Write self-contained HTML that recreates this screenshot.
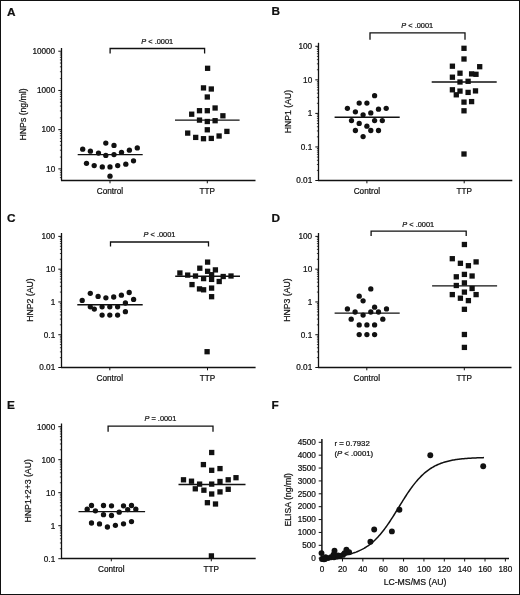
<!DOCTYPE html>
<html><head><meta charset="utf-8"><style>
html,body{margin:0;padding:0;background:#fff;}
body{width:520px;height:595px;overflow:hidden;}
svg{display:block;filter:grayscale(1);}
text{stroke:#111;stroke-width:0.22px;}
</style></head><body>
<svg width="520" height="595" viewBox="0 0 520 595" font-family='"Liberation Sans", sans-serif' fill="#111">
<rect x="0" y="0" width="520" height="595" fill="#fff"/>
<text x="6.90" y="15.80" font-size="11.8" text-anchor="start" font-weight="bold">A</text>
<line x1="61.50" y1="48.00" x2="61.50" y2="180.50" stroke="#111" stroke-width="1.3"/>
<line x1="58.30" y1="168.90" x2="61.50" y2="168.90" stroke="#111" stroke-width="1.0"/>
<text x="55.20" y="171.70" font-size="8.2" text-anchor="end" font-weight="normal">10</text>
<line x1="58.30" y1="129.67" x2="61.50" y2="129.67" stroke="#111" stroke-width="1.0"/>
<text x="55.20" y="132.47" font-size="8.2" text-anchor="end" font-weight="normal">100</text>
<line x1="58.30" y1="90.44" x2="61.50" y2="90.44" stroke="#111" stroke-width="1.0"/>
<text x="55.20" y="93.24" font-size="8.2" text-anchor="end" font-weight="normal">1000</text>
<line x1="58.30" y1="51.21" x2="61.50" y2="51.21" stroke="#111" stroke-width="1.0"/>
<text x="55.20" y="54.01" font-size="8.2" text-anchor="end" font-weight="normal">10000</text>
<line x1="59.90" y1="177.60" x2="61.50" y2="177.60" stroke="#111" stroke-width="0.8"/>
<line x1="59.90" y1="174.98" x2="61.50" y2="174.98" stroke="#111" stroke-width="0.8"/>
<line x1="59.90" y1="172.70" x2="61.50" y2="172.70" stroke="#111" stroke-width="0.8"/>
<line x1="59.90" y1="170.70" x2="61.50" y2="170.70" stroke="#111" stroke-width="0.8"/>
<line x1="59.90" y1="157.09" x2="61.50" y2="157.09" stroke="#111" stroke-width="0.8"/>
<line x1="59.90" y1="150.18" x2="61.50" y2="150.18" stroke="#111" stroke-width="0.8"/>
<line x1="59.90" y1="145.28" x2="61.50" y2="145.28" stroke="#111" stroke-width="0.8"/>
<line x1="59.90" y1="141.48" x2="61.50" y2="141.48" stroke="#111" stroke-width="0.8"/>
<line x1="59.90" y1="138.37" x2="61.50" y2="138.37" stroke="#111" stroke-width="0.8"/>
<line x1="59.90" y1="135.75" x2="61.50" y2="135.75" stroke="#111" stroke-width="0.8"/>
<line x1="59.90" y1="133.47" x2="61.50" y2="133.47" stroke="#111" stroke-width="0.8"/>
<line x1="59.90" y1="131.47" x2="61.50" y2="131.47" stroke="#111" stroke-width="0.8"/>
<line x1="59.90" y1="117.86" x2="61.50" y2="117.86" stroke="#111" stroke-width="0.8"/>
<line x1="59.90" y1="110.95" x2="61.50" y2="110.95" stroke="#111" stroke-width="0.8"/>
<line x1="59.90" y1="106.05" x2="61.50" y2="106.05" stroke="#111" stroke-width="0.8"/>
<line x1="59.90" y1="102.25" x2="61.50" y2="102.25" stroke="#111" stroke-width="0.8"/>
<line x1="59.90" y1="99.14" x2="61.50" y2="99.14" stroke="#111" stroke-width="0.8"/>
<line x1="59.90" y1="96.52" x2="61.50" y2="96.52" stroke="#111" stroke-width="0.8"/>
<line x1="59.90" y1="94.24" x2="61.50" y2="94.24" stroke="#111" stroke-width="0.8"/>
<line x1="59.90" y1="92.24" x2="61.50" y2="92.24" stroke="#111" stroke-width="0.8"/>
<line x1="59.90" y1="78.63" x2="61.50" y2="78.63" stroke="#111" stroke-width="0.8"/>
<line x1="59.90" y1="71.72" x2="61.50" y2="71.72" stroke="#111" stroke-width="0.8"/>
<line x1="59.90" y1="66.82" x2="61.50" y2="66.82" stroke="#111" stroke-width="0.8"/>
<line x1="59.90" y1="63.02" x2="61.50" y2="63.02" stroke="#111" stroke-width="0.8"/>
<line x1="59.90" y1="59.91" x2="61.50" y2="59.91" stroke="#111" stroke-width="0.8"/>
<line x1="59.90" y1="57.29" x2="61.50" y2="57.29" stroke="#111" stroke-width="0.8"/>
<line x1="59.90" y1="55.01" x2="61.50" y2="55.01" stroke="#111" stroke-width="0.8"/>
<line x1="59.90" y1="53.01" x2="61.50" y2="53.01" stroke="#111" stroke-width="0.8"/>
<line x1="61.00" y1="180.50" x2="255.50" y2="180.50" stroke="#111" stroke-width="1.3"/>
<line x1="110.00" y1="180.50" x2="110.00" y2="183.30" stroke="#111" stroke-width="1.0"/>
<text x="110.00" y="193.50" font-size="8.2" text-anchor="middle" font-weight="normal">Control</text>
<line x1="207.30" y1="180.50" x2="207.30" y2="183.30" stroke="#111" stroke-width="1.0"/>
<text x="207.30" y="193.50" font-size="8.2" text-anchor="middle" font-weight="normal">TTP</text>
<path d="M110.1 53.4 V48.5 H204.6 V53.4" fill="none" stroke="#111" stroke-width="1.3"/>
<text x="157.2" y="43.5" font-size="7.4" text-anchor="middle"><tspan font-style="italic">P</tspan> &lt; .0001</text>
<text x="0" y="0" font-size="8.7" text-anchor="middle" transform="translate(26.3,114.4) rotate(-90)">HNPs (ng/ml)</text>
<circle cx="105.80" cy="143.10" r="2.65"/>
<circle cx="114.00" cy="145.40" r="2.65"/>
<circle cx="82.70" cy="149.20" r="2.65"/>
<circle cx="90.40" cy="151.20" r="2.65"/>
<circle cx="98.50" cy="153.10" r="2.65"/>
<circle cx="105.80" cy="155.40" r="2.65"/>
<circle cx="114.00" cy="154.60" r="2.65"/>
<circle cx="121.50" cy="152.30" r="2.65"/>
<circle cx="129.40" cy="150.20" r="2.65"/>
<circle cx="137.30" cy="147.90" r="2.65"/>
<circle cx="86.50" cy="163.30" r="2.65"/>
<circle cx="94.20" cy="165.60" r="2.65"/>
<circle cx="102.30" cy="166.90" r="2.65"/>
<circle cx="110.00" cy="166.90" r="2.65"/>
<circle cx="117.70" cy="165.60" r="2.65"/>
<circle cx="125.80" cy="164.20" r="2.65"/>
<circle cx="133.50" cy="160.80" r="2.65"/>
<circle cx="110.00" cy="176.20" r="2.65"/>
<rect x="204.95" y="65.65" width="5.3" height="5.3"/>
<rect x="200.85" y="85.25" width="5.3" height="5.3"/>
<rect x="208.65" y="86.35" width="5.3" height="5.3"/>
<rect x="204.65" y="94.35" width="5.3" height="5.3"/>
<rect x="212.45" y="105.35" width="5.3" height="5.3"/>
<rect x="196.85" y="108.05" width="5.3" height="5.3"/>
<rect x="204.65" y="108.05" width="5.3" height="5.3"/>
<rect x="189.05" y="111.55" width="5.3" height="5.3"/>
<rect x="220.25" y="113.15" width="5.3" height="5.3"/>
<rect x="196.85" y="117.45" width="5.3" height="5.3"/>
<rect x="204.65" y="118.85" width="5.3" height="5.3"/>
<rect x="212.45" y="118.05" width="5.3" height="5.3"/>
<rect x="204.65" y="127.15" width="5.3" height="5.3"/>
<rect x="185.05" y="130.45" width="5.3" height="5.3"/>
<rect x="224.25" y="128.75" width="5.3" height="5.3"/>
<rect x="193.05" y="134.75" width="5.3" height="5.3"/>
<rect x="200.85" y="136.05" width="5.3" height="5.3"/>
<rect x="208.65" y="135.75" width="5.3" height="5.3"/>
<rect x="216.45" y="133.35" width="5.3" height="5.3"/>
<line x1="77.70" y1="154.60" x2="142.70" y2="154.60" stroke="#111" stroke-width="1.4"/>
<line x1="175.00" y1="120.10" x2="239.60" y2="120.10" stroke="#111" stroke-width="1.4"/>
<text x="271.50" y="15.40" font-size="11.8" text-anchor="start" font-weight="bold">B</text>
<line x1="318.50" y1="42.80" x2="318.50" y2="180.50" stroke="#111" stroke-width="1.3"/>
<line x1="315.30" y1="180.50" x2="318.50" y2="180.50" stroke="#111" stroke-width="1.0"/>
<text x="312.20" y="183.30" font-size="8.2" text-anchor="end" font-weight="normal">0.01</text>
<line x1="315.30" y1="146.95" x2="318.50" y2="146.95" stroke="#111" stroke-width="1.0"/>
<text x="312.20" y="149.75" font-size="8.2" text-anchor="end" font-weight="normal">0.1</text>
<line x1="315.30" y1="113.40" x2="318.50" y2="113.40" stroke="#111" stroke-width="1.0"/>
<text x="312.20" y="116.20" font-size="8.2" text-anchor="end" font-weight="normal">1</text>
<line x1="315.30" y1="79.85" x2="318.50" y2="79.85" stroke="#111" stroke-width="1.0"/>
<text x="312.20" y="82.65" font-size="8.2" text-anchor="end" font-weight="normal">10</text>
<line x1="315.30" y1="46.30" x2="318.50" y2="46.30" stroke="#111" stroke-width="1.0"/>
<text x="312.20" y="49.10" font-size="8.2" text-anchor="end" font-weight="normal">100</text>
<line x1="316.90" y1="170.40" x2="318.50" y2="170.40" stroke="#111" stroke-width="0.8"/>
<line x1="316.90" y1="164.49" x2="318.50" y2="164.49" stroke="#111" stroke-width="0.8"/>
<line x1="316.90" y1="160.30" x2="318.50" y2="160.30" stroke="#111" stroke-width="0.8"/>
<line x1="316.90" y1="157.05" x2="318.50" y2="157.05" stroke="#111" stroke-width="0.8"/>
<line x1="316.90" y1="154.39" x2="318.50" y2="154.39" stroke="#111" stroke-width="0.8"/>
<line x1="316.90" y1="152.15" x2="318.50" y2="152.15" stroke="#111" stroke-width="0.8"/>
<line x1="316.90" y1="150.20" x2="318.50" y2="150.20" stroke="#111" stroke-width="0.8"/>
<line x1="316.90" y1="148.49" x2="318.50" y2="148.49" stroke="#111" stroke-width="0.8"/>
<line x1="316.90" y1="136.85" x2="318.50" y2="136.85" stroke="#111" stroke-width="0.8"/>
<line x1="316.90" y1="130.94" x2="318.50" y2="130.94" stroke="#111" stroke-width="0.8"/>
<line x1="316.90" y1="126.75" x2="318.50" y2="126.75" stroke="#111" stroke-width="0.8"/>
<line x1="316.90" y1="123.50" x2="318.50" y2="123.50" stroke="#111" stroke-width="0.8"/>
<line x1="316.90" y1="120.84" x2="318.50" y2="120.84" stroke="#111" stroke-width="0.8"/>
<line x1="316.90" y1="118.60" x2="318.50" y2="118.60" stroke="#111" stroke-width="0.8"/>
<line x1="316.90" y1="116.65" x2="318.50" y2="116.65" stroke="#111" stroke-width="0.8"/>
<line x1="316.90" y1="114.94" x2="318.50" y2="114.94" stroke="#111" stroke-width="0.8"/>
<line x1="316.90" y1="103.30" x2="318.50" y2="103.30" stroke="#111" stroke-width="0.8"/>
<line x1="316.90" y1="97.39" x2="318.50" y2="97.39" stroke="#111" stroke-width="0.8"/>
<line x1="316.90" y1="93.20" x2="318.50" y2="93.20" stroke="#111" stroke-width="0.8"/>
<line x1="316.90" y1="89.95" x2="318.50" y2="89.95" stroke="#111" stroke-width="0.8"/>
<line x1="316.90" y1="87.29" x2="318.50" y2="87.29" stroke="#111" stroke-width="0.8"/>
<line x1="316.90" y1="85.05" x2="318.50" y2="85.05" stroke="#111" stroke-width="0.8"/>
<line x1="316.90" y1="83.10" x2="318.50" y2="83.10" stroke="#111" stroke-width="0.8"/>
<line x1="316.90" y1="81.39" x2="318.50" y2="81.39" stroke="#111" stroke-width="0.8"/>
<line x1="316.90" y1="69.75" x2="318.50" y2="69.75" stroke="#111" stroke-width="0.8"/>
<line x1="316.90" y1="63.84" x2="318.50" y2="63.84" stroke="#111" stroke-width="0.8"/>
<line x1="316.90" y1="59.65" x2="318.50" y2="59.65" stroke="#111" stroke-width="0.8"/>
<line x1="316.90" y1="56.40" x2="318.50" y2="56.40" stroke="#111" stroke-width="0.8"/>
<line x1="316.90" y1="53.74" x2="318.50" y2="53.74" stroke="#111" stroke-width="0.8"/>
<line x1="316.90" y1="51.50" x2="318.50" y2="51.50" stroke="#111" stroke-width="0.8"/>
<line x1="316.90" y1="49.55" x2="318.50" y2="49.55" stroke="#111" stroke-width="0.8"/>
<line x1="316.90" y1="47.84" x2="318.50" y2="47.84" stroke="#111" stroke-width="0.8"/>
<line x1="318.00" y1="180.50" x2="512.30" y2="180.50" stroke="#111" stroke-width="1.3"/>
<line x1="366.90" y1="180.50" x2="366.90" y2="183.30" stroke="#111" stroke-width="1.0"/>
<text x="366.90" y="193.50" font-size="8.2" text-anchor="middle" font-weight="normal">Control</text>
<line x1="464.20" y1="180.50" x2="464.20" y2="183.30" stroke="#111" stroke-width="1.0"/>
<text x="464.20" y="193.50" font-size="8.2" text-anchor="middle" font-weight="normal">TTP</text>
<path d="M370.0 39.8 V32.9 H465 V39.8" fill="none" stroke="#111" stroke-width="1.3"/>
<text x="417.2" y="28.2" font-size="7.4" text-anchor="middle"><tspan font-style="italic">P</tspan> &lt; .0001</text>
<text x="0" y="0" font-size="8.7" text-anchor="middle" transform="translate(290.6,111.5) rotate(-90)">HNP1 (AU)</text>
<circle cx="374.60" cy="95.70" r="2.65"/>
<circle cx="359.20" cy="103.10" r="2.65"/>
<circle cx="366.90" cy="103.10" r="2.65"/>
<circle cx="347.40" cy="108.30" r="2.65"/>
<circle cx="378.50" cy="109.20" r="2.65"/>
<circle cx="386.20" cy="108.30" r="2.65"/>
<circle cx="355.40" cy="111.80" r="2.65"/>
<circle cx="370.80" cy="112.90" r="2.65"/>
<circle cx="363.10" cy="114.80" r="2.65"/>
<circle cx="351.50" cy="120.60" r="2.65"/>
<circle cx="374.60" cy="120.60" r="2.65"/>
<circle cx="382.30" cy="120.60" r="2.65"/>
<circle cx="359.20" cy="123.40" r="2.65"/>
<circle cx="366.90" cy="126.20" r="2.65"/>
<circle cx="355.40" cy="130.50" r="2.65"/>
<circle cx="370.80" cy="130.50" r="2.65"/>
<circle cx="378.50" cy="130.50" r="2.65"/>
<circle cx="363.10" cy="136.60" r="2.65"/>
<rect x="461.35" y="45.65" width="5.3" height="5.3"/>
<rect x="461.35" y="56.35" width="5.3" height="5.3"/>
<rect x="449.75" y="63.55" width="5.3" height="5.3"/>
<rect x="477.05" y="64.05" width="5.3" height="5.3"/>
<rect x="457.35" y="70.55" width="5.3" height="5.3"/>
<rect x="468.95" y="71.25" width="5.3" height="5.3"/>
<rect x="473.35" y="71.65" width="5.3" height="5.3"/>
<rect x="449.75" y="74.55" width="5.3" height="5.3"/>
<rect x="457.35" y="79.35" width="5.3" height="5.3"/>
<rect x="465.45" y="78.65" width="5.3" height="5.3"/>
<rect x="449.75" y="87.15" width="5.3" height="5.3"/>
<rect x="457.35" y="88.45" width="5.3" height="5.3"/>
<rect x="465.45" y="89.75" width="5.3" height="5.3"/>
<rect x="472.85" y="88.25" width="5.3" height="5.3"/>
<rect x="453.65" y="92.15" width="5.3" height="5.3"/>
<rect x="461.35" y="99.45" width="5.3" height="5.3"/>
<rect x="468.95" y="98.95" width="5.3" height="5.3"/>
<rect x="461.35" y="108.15" width="5.3" height="5.3"/>
<rect x="461.35" y="151.35" width="5.3" height="5.3"/>
<line x1="334.60" y1="117.20" x2="399.70" y2="117.20" stroke="#111" stroke-width="1.4"/>
<line x1="431.70" y1="82.00" x2="496.70" y2="82.00" stroke="#111" stroke-width="1.4"/>
<text x="6.90" y="221.50" font-size="11.8" text-anchor="start" font-weight="bold">C</text>
<line x1="61.50" y1="233.00" x2="61.50" y2="367.50" stroke="#111" stroke-width="1.3"/>
<line x1="58.30" y1="367.50" x2="61.50" y2="367.50" stroke="#111" stroke-width="1.0"/>
<text x="55.20" y="370.30" font-size="8.2" text-anchor="end" font-weight="normal">0.01</text>
<line x1="58.30" y1="334.72" x2="61.50" y2="334.72" stroke="#111" stroke-width="1.0"/>
<text x="55.20" y="337.52" font-size="8.2" text-anchor="end" font-weight="normal">0.1</text>
<line x1="58.30" y1="301.94" x2="61.50" y2="301.94" stroke="#111" stroke-width="1.0"/>
<text x="55.20" y="304.74" font-size="8.2" text-anchor="end" font-weight="normal">1</text>
<line x1="58.30" y1="269.16" x2="61.50" y2="269.16" stroke="#111" stroke-width="1.0"/>
<text x="55.20" y="271.96" font-size="8.2" text-anchor="end" font-weight="normal">10</text>
<line x1="58.30" y1="236.38" x2="61.50" y2="236.38" stroke="#111" stroke-width="1.0"/>
<text x="55.20" y="239.18" font-size="8.2" text-anchor="end" font-weight="normal">100</text>
<line x1="59.90" y1="357.63" x2="61.50" y2="357.63" stroke="#111" stroke-width="0.8"/>
<line x1="59.90" y1="351.86" x2="61.50" y2="351.86" stroke="#111" stroke-width="0.8"/>
<line x1="59.90" y1="347.76" x2="61.50" y2="347.76" stroke="#111" stroke-width="0.8"/>
<line x1="59.90" y1="344.59" x2="61.50" y2="344.59" stroke="#111" stroke-width="0.8"/>
<line x1="59.90" y1="341.99" x2="61.50" y2="341.99" stroke="#111" stroke-width="0.8"/>
<line x1="59.90" y1="339.80" x2="61.50" y2="339.80" stroke="#111" stroke-width="0.8"/>
<line x1="59.90" y1="337.90" x2="61.50" y2="337.90" stroke="#111" stroke-width="0.8"/>
<line x1="59.90" y1="336.22" x2="61.50" y2="336.22" stroke="#111" stroke-width="0.8"/>
<line x1="59.90" y1="324.85" x2="61.50" y2="324.85" stroke="#111" stroke-width="0.8"/>
<line x1="59.90" y1="319.08" x2="61.50" y2="319.08" stroke="#111" stroke-width="0.8"/>
<line x1="59.90" y1="314.98" x2="61.50" y2="314.98" stroke="#111" stroke-width="0.8"/>
<line x1="59.90" y1="311.81" x2="61.50" y2="311.81" stroke="#111" stroke-width="0.8"/>
<line x1="59.90" y1="309.21" x2="61.50" y2="309.21" stroke="#111" stroke-width="0.8"/>
<line x1="59.90" y1="307.02" x2="61.50" y2="307.02" stroke="#111" stroke-width="0.8"/>
<line x1="59.90" y1="305.12" x2="61.50" y2="305.12" stroke="#111" stroke-width="0.8"/>
<line x1="59.90" y1="303.44" x2="61.50" y2="303.44" stroke="#111" stroke-width="0.8"/>
<line x1="59.90" y1="292.07" x2="61.50" y2="292.07" stroke="#111" stroke-width="0.8"/>
<line x1="59.90" y1="286.30" x2="61.50" y2="286.30" stroke="#111" stroke-width="0.8"/>
<line x1="59.90" y1="282.20" x2="61.50" y2="282.20" stroke="#111" stroke-width="0.8"/>
<line x1="59.90" y1="279.03" x2="61.50" y2="279.03" stroke="#111" stroke-width="0.8"/>
<line x1="59.90" y1="276.43" x2="61.50" y2="276.43" stroke="#111" stroke-width="0.8"/>
<line x1="59.90" y1="274.24" x2="61.50" y2="274.24" stroke="#111" stroke-width="0.8"/>
<line x1="59.90" y1="272.34" x2="61.50" y2="272.34" stroke="#111" stroke-width="0.8"/>
<line x1="59.90" y1="270.66" x2="61.50" y2="270.66" stroke="#111" stroke-width="0.8"/>
<line x1="59.90" y1="259.29" x2="61.50" y2="259.29" stroke="#111" stroke-width="0.8"/>
<line x1="59.90" y1="253.52" x2="61.50" y2="253.52" stroke="#111" stroke-width="0.8"/>
<line x1="59.90" y1="249.42" x2="61.50" y2="249.42" stroke="#111" stroke-width="0.8"/>
<line x1="59.90" y1="246.25" x2="61.50" y2="246.25" stroke="#111" stroke-width="0.8"/>
<line x1="59.90" y1="243.65" x2="61.50" y2="243.65" stroke="#111" stroke-width="0.8"/>
<line x1="59.90" y1="241.46" x2="61.50" y2="241.46" stroke="#111" stroke-width="0.8"/>
<line x1="59.90" y1="239.56" x2="61.50" y2="239.56" stroke="#111" stroke-width="0.8"/>
<line x1="59.90" y1="237.88" x2="61.50" y2="237.88" stroke="#111" stroke-width="0.8"/>
<line x1="61.00" y1="367.50" x2="255.60" y2="367.50" stroke="#111" stroke-width="1.3"/>
<line x1="109.80" y1="367.50" x2="109.80" y2="370.30" stroke="#111" stroke-width="1.0"/>
<text x="109.80" y="380.50" font-size="8.2" text-anchor="middle" font-weight="normal">Control</text>
<line x1="207.50" y1="367.50" x2="207.50" y2="370.30" stroke="#111" stroke-width="1.0"/>
<text x="207.50" y="380.50" font-size="8.2" text-anchor="middle" font-weight="normal">TTP</text>
<path d="M110.5 246.6 V242.0 H208.5 V246.6" fill="none" stroke="#111" stroke-width="1.3"/>
<text x="159.5" y="237.0" font-size="7.4" text-anchor="middle"><tspan font-style="italic">P</tspan> &lt; .0001</text>
<text x="0" y="0" font-size="8.7" text-anchor="middle" transform="translate(33.3,300.0) rotate(-90)">HNP2 (AU)</text>
<circle cx="90.30" cy="293.30" r="2.65"/>
<circle cx="129.20" cy="292.50" r="2.65"/>
<circle cx="98.10" cy="296.40" r="2.65"/>
<circle cx="105.90" cy="297.80" r="2.65"/>
<circle cx="113.70" cy="297.00" r="2.65"/>
<circle cx="121.40" cy="295.20" r="2.65"/>
<circle cx="82.20" cy="300.40" r="2.65"/>
<circle cx="133.60" cy="299.40" r="2.65"/>
<circle cx="125.40" cy="303.00" r="2.65"/>
<circle cx="90.30" cy="306.80" r="2.65"/>
<circle cx="94.30" cy="309.10" r="2.65"/>
<circle cx="102.10" cy="306.80" r="2.65"/>
<circle cx="109.80" cy="306.80" r="2.65"/>
<circle cx="117.60" cy="306.80" r="2.65"/>
<circle cx="125.40" cy="311.70" r="2.65"/>
<circle cx="102.10" cy="315.10" r="2.65"/>
<circle cx="109.80" cy="315.10" r="2.65"/>
<circle cx="117.60" cy="315.10" r="2.65"/>
<rect x="204.95" y="259.45" width="5.3" height="5.3"/>
<rect x="197.15" y="265.55" width="5.3" height="5.3"/>
<rect x="204.95" y="268.65" width="5.3" height="5.3"/>
<rect x="212.75" y="267.25" width="5.3" height="5.3"/>
<rect x="177.25" y="270.35" width="5.3" height="5.3"/>
<rect x="185.05" y="272.45" width="5.3" height="5.3"/>
<rect x="192.85" y="273.35" width="5.3" height="5.3"/>
<rect x="208.95" y="272.05" width="5.3" height="5.3"/>
<rect x="220.55" y="273.85" width="5.3" height="5.3"/>
<rect x="228.35" y="273.35" width="5.3" height="5.3"/>
<rect x="200.95" y="275.95" width="5.3" height="5.3"/>
<rect x="208.95" y="276.75" width="5.3" height="5.3"/>
<rect x="216.55" y="278.85" width="5.3" height="5.3"/>
<rect x="189.35" y="281.95" width="5.3" height="5.3"/>
<rect x="196.85" y="286.25" width="5.3" height="5.3"/>
<rect x="200.95" y="287.15" width="5.3" height="5.3"/>
<rect x="208.95" y="285.45" width="5.3" height="5.3"/>
<rect x="208.95" y="294.05" width="5.3" height="5.3"/>
<rect x="204.45" y="349.05" width="5.3" height="5.3"/>
<line x1="77.30" y1="304.70" x2="142.70" y2="304.70" stroke="#111" stroke-width="1.4"/>
<line x1="175.20" y1="276.30" x2="240.00" y2="276.30" stroke="#111" stroke-width="1.4"/>
<text x="271.50" y="221.50" font-size="11.8" text-anchor="start" font-weight="bold">D</text>
<line x1="318.50" y1="233.00" x2="318.50" y2="367.50" stroke="#111" stroke-width="1.3"/>
<line x1="315.30" y1="367.50" x2="318.50" y2="367.50" stroke="#111" stroke-width="1.0"/>
<text x="312.20" y="370.30" font-size="8.2" text-anchor="end" font-weight="normal">0.01</text>
<line x1="315.30" y1="334.72" x2="318.50" y2="334.72" stroke="#111" stroke-width="1.0"/>
<text x="312.20" y="337.52" font-size="8.2" text-anchor="end" font-weight="normal">0.1</text>
<line x1="315.30" y1="301.94" x2="318.50" y2="301.94" stroke="#111" stroke-width="1.0"/>
<text x="312.20" y="304.74" font-size="8.2" text-anchor="end" font-weight="normal">1</text>
<line x1="315.30" y1="269.16" x2="318.50" y2="269.16" stroke="#111" stroke-width="1.0"/>
<text x="312.20" y="271.96" font-size="8.2" text-anchor="end" font-weight="normal">10</text>
<line x1="315.30" y1="236.38" x2="318.50" y2="236.38" stroke="#111" stroke-width="1.0"/>
<text x="312.20" y="239.18" font-size="8.2" text-anchor="end" font-weight="normal">100</text>
<line x1="316.90" y1="357.63" x2="318.50" y2="357.63" stroke="#111" stroke-width="0.8"/>
<line x1="316.90" y1="351.86" x2="318.50" y2="351.86" stroke="#111" stroke-width="0.8"/>
<line x1="316.90" y1="347.76" x2="318.50" y2="347.76" stroke="#111" stroke-width="0.8"/>
<line x1="316.90" y1="344.59" x2="318.50" y2="344.59" stroke="#111" stroke-width="0.8"/>
<line x1="316.90" y1="341.99" x2="318.50" y2="341.99" stroke="#111" stroke-width="0.8"/>
<line x1="316.90" y1="339.80" x2="318.50" y2="339.80" stroke="#111" stroke-width="0.8"/>
<line x1="316.90" y1="337.90" x2="318.50" y2="337.90" stroke="#111" stroke-width="0.8"/>
<line x1="316.90" y1="336.22" x2="318.50" y2="336.22" stroke="#111" stroke-width="0.8"/>
<line x1="316.90" y1="324.85" x2="318.50" y2="324.85" stroke="#111" stroke-width="0.8"/>
<line x1="316.90" y1="319.08" x2="318.50" y2="319.08" stroke="#111" stroke-width="0.8"/>
<line x1="316.90" y1="314.98" x2="318.50" y2="314.98" stroke="#111" stroke-width="0.8"/>
<line x1="316.90" y1="311.81" x2="318.50" y2="311.81" stroke="#111" stroke-width="0.8"/>
<line x1="316.90" y1="309.21" x2="318.50" y2="309.21" stroke="#111" stroke-width="0.8"/>
<line x1="316.90" y1="307.02" x2="318.50" y2="307.02" stroke="#111" stroke-width="0.8"/>
<line x1="316.90" y1="305.12" x2="318.50" y2="305.12" stroke="#111" stroke-width="0.8"/>
<line x1="316.90" y1="303.44" x2="318.50" y2="303.44" stroke="#111" stroke-width="0.8"/>
<line x1="316.90" y1="292.07" x2="318.50" y2="292.07" stroke="#111" stroke-width="0.8"/>
<line x1="316.90" y1="286.30" x2="318.50" y2="286.30" stroke="#111" stroke-width="0.8"/>
<line x1="316.90" y1="282.20" x2="318.50" y2="282.20" stroke="#111" stroke-width="0.8"/>
<line x1="316.90" y1="279.03" x2="318.50" y2="279.03" stroke="#111" stroke-width="0.8"/>
<line x1="316.90" y1="276.43" x2="318.50" y2="276.43" stroke="#111" stroke-width="0.8"/>
<line x1="316.90" y1="274.24" x2="318.50" y2="274.24" stroke="#111" stroke-width="0.8"/>
<line x1="316.90" y1="272.34" x2="318.50" y2="272.34" stroke="#111" stroke-width="0.8"/>
<line x1="316.90" y1="270.66" x2="318.50" y2="270.66" stroke="#111" stroke-width="0.8"/>
<line x1="316.90" y1="259.29" x2="318.50" y2="259.29" stroke="#111" stroke-width="0.8"/>
<line x1="316.90" y1="253.52" x2="318.50" y2="253.52" stroke="#111" stroke-width="0.8"/>
<line x1="316.90" y1="249.42" x2="318.50" y2="249.42" stroke="#111" stroke-width="0.8"/>
<line x1="316.90" y1="246.25" x2="318.50" y2="246.25" stroke="#111" stroke-width="0.8"/>
<line x1="316.90" y1="243.65" x2="318.50" y2="243.65" stroke="#111" stroke-width="0.8"/>
<line x1="316.90" y1="241.46" x2="318.50" y2="241.46" stroke="#111" stroke-width="0.8"/>
<line x1="316.90" y1="239.56" x2="318.50" y2="239.56" stroke="#111" stroke-width="0.8"/>
<line x1="316.90" y1="237.88" x2="318.50" y2="237.88" stroke="#111" stroke-width="0.8"/>
<line x1="318.00" y1="367.50" x2="511.50" y2="367.50" stroke="#111" stroke-width="1.3"/>
<line x1="366.80" y1="367.50" x2="366.80" y2="370.30" stroke="#111" stroke-width="1.0"/>
<text x="366.80" y="380.50" font-size="8.2" text-anchor="middle" font-weight="normal">Control</text>
<line x1="464.30" y1="367.50" x2="464.30" y2="370.30" stroke="#111" stroke-width="1.0"/>
<text x="464.30" y="380.50" font-size="8.2" text-anchor="middle" font-weight="normal">TTP</text>
<path d="M371.1 236.0 V231.2 H466.2 V236.0" fill="none" stroke="#111" stroke-width="1.3"/>
<text x="418.2" y="227.0" font-size="7.4" text-anchor="middle"><tspan font-style="italic">P</tspan> &lt; .0001</text>
<text x="0" y="0" font-size="8.7" text-anchor="middle" transform="translate(290.0,300.0) rotate(-90)">HNP3 (AU)</text>
<circle cx="370.80" cy="288.90" r="2.65"/>
<circle cx="359.20" cy="296.20" r="2.65"/>
<circle cx="363.10" cy="300.80" r="2.65"/>
<circle cx="374.60" cy="307.20" r="2.65"/>
<circle cx="347.40" cy="308.90" r="2.65"/>
<circle cx="386.50" cy="308.90" r="2.65"/>
<circle cx="355.10" cy="312.00" r="2.65"/>
<circle cx="370.80" cy="312.00" r="2.65"/>
<circle cx="378.50" cy="312.00" r="2.65"/>
<circle cx="363.10" cy="315.10" r="2.65"/>
<circle cx="351.20" cy="319.20" r="2.65"/>
<circle cx="382.80" cy="319.20" r="2.65"/>
<circle cx="359.20" cy="324.90" r="2.65"/>
<circle cx="366.90" cy="324.90" r="2.65"/>
<circle cx="374.60" cy="324.90" r="2.65"/>
<circle cx="359.20" cy="334.60" r="2.65"/>
<circle cx="366.90" cy="334.60" r="2.65"/>
<circle cx="374.60" cy="334.60" r="2.65"/>
<rect x="461.75" y="241.85" width="5.3" height="5.3"/>
<rect x="449.65" y="256.05" width="5.3" height="5.3"/>
<rect x="457.75" y="260.65" width="5.3" height="5.3"/>
<rect x="465.75" y="263.05" width="5.3" height="5.3"/>
<rect x="473.45" y="259.25" width="5.3" height="5.3"/>
<rect x="453.65" y="274.15" width="5.3" height="5.3"/>
<rect x="461.75" y="271.75" width="5.3" height="5.3"/>
<rect x="469.45" y="273.35" width="5.3" height="5.3"/>
<rect x="453.65" y="282.85" width="5.3" height="5.3"/>
<rect x="461.75" y="280.25" width="5.3" height="5.3"/>
<rect x="469.45" y="285.85" width="5.3" height="5.3"/>
<rect x="449.65" y="291.95" width="5.3" height="5.3"/>
<rect x="461.75" y="289.45" width="5.3" height="5.3"/>
<rect x="473.45" y="291.95" width="5.3" height="5.3"/>
<rect x="457.75" y="295.55" width="5.3" height="5.3"/>
<rect x="465.75" y="297.95" width="5.3" height="5.3"/>
<rect x="461.75" y="306.65" width="5.3" height="5.3"/>
<rect x="461.75" y="331.85" width="5.3" height="5.3"/>
<rect x="461.75" y="344.75" width="5.3" height="5.3"/>
<line x1="334.60" y1="313.10" x2="399.70" y2="313.10" stroke="#111" stroke-width="1.4"/>
<line x1="432.10" y1="285.90" x2="497.10" y2="285.90" stroke="#111" stroke-width="1.4"/>
<text x="6.90" y="408.80" font-size="11.8" text-anchor="start" font-weight="bold">E</text>
<line x1="61.50" y1="423.50" x2="61.50" y2="558.50" stroke="#111" stroke-width="1.3"/>
<line x1="58.30" y1="558.70" x2="61.50" y2="558.70" stroke="#111" stroke-width="1.0"/>
<text x="55.20" y="561.50" font-size="8.2" text-anchor="end" font-weight="normal">0.1</text>
<line x1="58.30" y1="525.70" x2="61.50" y2="525.70" stroke="#111" stroke-width="1.0"/>
<text x="55.20" y="528.50" font-size="8.2" text-anchor="end" font-weight="normal">1</text>
<line x1="58.30" y1="492.70" x2="61.50" y2="492.70" stroke="#111" stroke-width="1.0"/>
<text x="55.20" y="495.50" font-size="8.2" text-anchor="end" font-weight="normal">10</text>
<line x1="58.30" y1="459.70" x2="61.50" y2="459.70" stroke="#111" stroke-width="1.0"/>
<text x="55.20" y="462.50" font-size="8.2" text-anchor="end" font-weight="normal">100</text>
<line x1="58.30" y1="426.70" x2="61.50" y2="426.70" stroke="#111" stroke-width="1.0"/>
<text x="55.20" y="429.50" font-size="8.2" text-anchor="end" font-weight="normal">1000</text>
<line x1="59.90" y1="548.77" x2="61.50" y2="548.77" stroke="#111" stroke-width="0.8"/>
<line x1="59.90" y1="542.95" x2="61.50" y2="542.95" stroke="#111" stroke-width="0.8"/>
<line x1="59.90" y1="538.83" x2="61.50" y2="538.83" stroke="#111" stroke-width="0.8"/>
<line x1="59.90" y1="535.63" x2="61.50" y2="535.63" stroke="#111" stroke-width="0.8"/>
<line x1="59.90" y1="533.02" x2="61.50" y2="533.02" stroke="#111" stroke-width="0.8"/>
<line x1="59.90" y1="530.81" x2="61.50" y2="530.81" stroke="#111" stroke-width="0.8"/>
<line x1="59.90" y1="528.90" x2="61.50" y2="528.90" stroke="#111" stroke-width="0.8"/>
<line x1="59.90" y1="527.21" x2="61.50" y2="527.21" stroke="#111" stroke-width="0.8"/>
<line x1="59.90" y1="515.77" x2="61.50" y2="515.77" stroke="#111" stroke-width="0.8"/>
<line x1="59.90" y1="509.95" x2="61.50" y2="509.95" stroke="#111" stroke-width="0.8"/>
<line x1="59.90" y1="505.83" x2="61.50" y2="505.83" stroke="#111" stroke-width="0.8"/>
<line x1="59.90" y1="502.63" x2="61.50" y2="502.63" stroke="#111" stroke-width="0.8"/>
<line x1="59.90" y1="500.02" x2="61.50" y2="500.02" stroke="#111" stroke-width="0.8"/>
<line x1="59.90" y1="497.81" x2="61.50" y2="497.81" stroke="#111" stroke-width="0.8"/>
<line x1="59.90" y1="495.90" x2="61.50" y2="495.90" stroke="#111" stroke-width="0.8"/>
<line x1="59.90" y1="494.21" x2="61.50" y2="494.21" stroke="#111" stroke-width="0.8"/>
<line x1="59.90" y1="482.77" x2="61.50" y2="482.77" stroke="#111" stroke-width="0.8"/>
<line x1="59.90" y1="476.95" x2="61.50" y2="476.95" stroke="#111" stroke-width="0.8"/>
<line x1="59.90" y1="472.83" x2="61.50" y2="472.83" stroke="#111" stroke-width="0.8"/>
<line x1="59.90" y1="469.63" x2="61.50" y2="469.63" stroke="#111" stroke-width="0.8"/>
<line x1="59.90" y1="467.02" x2="61.50" y2="467.02" stroke="#111" stroke-width="0.8"/>
<line x1="59.90" y1="464.81" x2="61.50" y2="464.81" stroke="#111" stroke-width="0.8"/>
<line x1="59.90" y1="462.90" x2="61.50" y2="462.90" stroke="#111" stroke-width="0.8"/>
<line x1="59.90" y1="461.21" x2="61.50" y2="461.21" stroke="#111" stroke-width="0.8"/>
<line x1="59.90" y1="449.77" x2="61.50" y2="449.77" stroke="#111" stroke-width="0.8"/>
<line x1="59.90" y1="443.95" x2="61.50" y2="443.95" stroke="#111" stroke-width="0.8"/>
<line x1="59.90" y1="439.83" x2="61.50" y2="439.83" stroke="#111" stroke-width="0.8"/>
<line x1="59.90" y1="436.63" x2="61.50" y2="436.63" stroke="#111" stroke-width="0.8"/>
<line x1="59.90" y1="434.02" x2="61.50" y2="434.02" stroke="#111" stroke-width="0.8"/>
<line x1="59.90" y1="431.81" x2="61.50" y2="431.81" stroke="#111" stroke-width="0.8"/>
<line x1="59.90" y1="429.90" x2="61.50" y2="429.90" stroke="#111" stroke-width="0.8"/>
<line x1="59.90" y1="428.21" x2="61.50" y2="428.21" stroke="#111" stroke-width="0.8"/>
<line x1="61.00" y1="558.50" x2="255.70" y2="558.50" stroke="#111" stroke-width="1.3"/>
<line x1="111.30" y1="558.50" x2="111.30" y2="561.30" stroke="#111" stroke-width="1.0"/>
<text x="111.30" y="571.50" font-size="8.2" text-anchor="middle" font-weight="normal">Control</text>
<line x1="211.30" y1="558.50" x2="211.30" y2="561.30" stroke="#111" stroke-width="1.0"/>
<text x="211.30" y="571.50" font-size="8.2" text-anchor="middle" font-weight="normal">TTP</text>
<path d="M108.1 431.8 V426.1 H213 V431.8" fill="none" stroke="#111" stroke-width="1.3"/>
<text x="160.4" y="421.0" font-size="7.4" text-anchor="middle"><tspan font-style="italic">P</tspan> = .0001</text>
<text x="0" y="0" font-size="8.7" text-anchor="middle" transform="translate(31.4,490.8) rotate(-90)">HNP1+2+3 (AU)</text>
<circle cx="91.50" cy="505.50" r="2.65"/>
<circle cx="103.50" cy="505.50" r="2.65"/>
<circle cx="111.50" cy="505.80" r="2.65"/>
<circle cx="123.50" cy="505.80" r="2.65"/>
<circle cx="131.50" cy="505.50" r="2.65"/>
<circle cx="87.20" cy="509.20" r="2.65"/>
<circle cx="127.70" cy="509.60" r="2.65"/>
<circle cx="135.80" cy="509.20" r="2.65"/>
<circle cx="95.40" cy="510.80" r="2.65"/>
<circle cx="119.20" cy="512.20" r="2.65"/>
<circle cx="103.50" cy="514.70" r="2.65"/>
<circle cx="111.50" cy="515.50" r="2.65"/>
<circle cx="91.50" cy="523.00" r="2.65"/>
<circle cx="99.50" cy="523.90" r="2.65"/>
<circle cx="107.40" cy="527.00" r="2.65"/>
<circle cx="115.40" cy="525.30" r="2.65"/>
<circle cx="123.50" cy="523.80" r="2.65"/>
<circle cx="131.50" cy="521.60" r="2.65"/>
<rect x="209.05" y="449.85" width="5.3" height="5.3"/>
<rect x="200.75" y="461.95" width="5.3" height="5.3"/>
<rect x="209.05" y="467.65" width="5.3" height="5.3"/>
<rect x="217.35" y="465.95" width="5.3" height="5.3"/>
<rect x="180.85" y="477.15" width="5.3" height="5.3"/>
<rect x="188.85" y="478.55" width="5.3" height="5.3"/>
<rect x="196.95" y="481.45" width="5.3" height="5.3"/>
<rect x="209.05" y="481.45" width="5.3" height="5.3"/>
<rect x="217.35" y="478.85" width="5.3" height="5.3"/>
<rect x="225.55" y="477.15" width="5.3" height="5.3"/>
<rect x="233.35" y="475.05" width="5.3" height="5.3"/>
<rect x="192.65" y="486.15" width="5.3" height="5.3"/>
<rect x="201.25" y="487.55" width="5.3" height="5.3"/>
<rect x="209.05" y="491.35" width="5.3" height="5.3"/>
<rect x="217.35" y="489.25" width="5.3" height="5.3"/>
<rect x="225.55" y="486.65" width="5.3" height="5.3"/>
<rect x="204.75" y="500.05" width="5.3" height="5.3"/>
<rect x="212.85" y="501.35" width="5.3" height="5.3"/>
<rect x="208.75" y="553.25" width="5.3" height="5.3"/>
<line x1="78.50" y1="511.60" x2="145.10" y2="511.60" stroke="#111" stroke-width="1.4"/>
<line x1="178.50" y1="484.50" x2="245.50" y2="484.50" stroke="#111" stroke-width="1.4"/>
<text x="271.50" y="408.60" font-size="11.8" text-anchor="start" font-weight="bold">F</text>
<line x1="321.90" y1="438.90" x2="321.90" y2="559.10" stroke="#111" stroke-width="1.5"/>
<line x1="318.70" y1="558.20" x2="321.90" y2="558.20" stroke="#111" stroke-width="1.0"/>
<text x="315.90" y="561.00" font-size="8.2" text-anchor="end" font-weight="normal">0</text>
<line x1="318.70" y1="545.32" x2="321.90" y2="545.32" stroke="#111" stroke-width="1.0"/>
<text x="315.90" y="548.12" font-size="8.2" text-anchor="end" font-weight="normal">500</text>
<line x1="318.70" y1="532.44" x2="321.90" y2="532.44" stroke="#111" stroke-width="1.0"/>
<text x="315.90" y="535.24" font-size="8.2" text-anchor="end" font-weight="normal">1000</text>
<line x1="318.70" y1="519.57" x2="321.90" y2="519.57" stroke="#111" stroke-width="1.0"/>
<text x="315.90" y="522.37" font-size="8.2" text-anchor="end" font-weight="normal">1500</text>
<line x1="318.70" y1="506.69" x2="321.90" y2="506.69" stroke="#111" stroke-width="1.0"/>
<text x="315.90" y="509.49" font-size="8.2" text-anchor="end" font-weight="normal">2000</text>
<line x1="318.70" y1="493.81" x2="321.90" y2="493.81" stroke="#111" stroke-width="1.0"/>
<text x="315.90" y="496.61" font-size="8.2" text-anchor="end" font-weight="normal">2500</text>
<line x1="318.70" y1="480.93" x2="321.90" y2="480.93" stroke="#111" stroke-width="1.0"/>
<text x="315.90" y="483.73" font-size="8.2" text-anchor="end" font-weight="normal">3000</text>
<line x1="318.70" y1="468.06" x2="321.90" y2="468.06" stroke="#111" stroke-width="1.0"/>
<text x="315.90" y="470.86" font-size="8.2" text-anchor="end" font-weight="normal">3500</text>
<line x1="318.70" y1="455.18" x2="321.90" y2="455.18" stroke="#111" stroke-width="1.0"/>
<text x="315.90" y="457.98" font-size="8.2" text-anchor="end" font-weight="normal">4000</text>
<line x1="318.70" y1="442.30" x2="321.90" y2="442.30" stroke="#111" stroke-width="1.0"/>
<text x="315.90" y="445.10" font-size="8.2" text-anchor="end" font-weight="normal">4500</text>
<line x1="321.40" y1="558.50" x2="509.00" y2="558.50" stroke="#111" stroke-width="1.3"/>
<line x1="322.10" y1="558.50" x2="322.10" y2="561.50" stroke="#111" stroke-width="1.0"/>
<text x="322.10" y="571.80" font-size="8.2" text-anchor="middle" font-weight="normal">0</text>
<line x1="342.47" y1="558.50" x2="342.47" y2="561.50" stroke="#111" stroke-width="1.0"/>
<text x="342.47" y="571.80" font-size="8.2" text-anchor="middle" font-weight="normal">20</text>
<line x1="362.83" y1="558.50" x2="362.83" y2="561.50" stroke="#111" stroke-width="1.0"/>
<text x="362.83" y="571.80" font-size="8.2" text-anchor="middle" font-weight="normal">40</text>
<line x1="383.20" y1="558.50" x2="383.20" y2="561.50" stroke="#111" stroke-width="1.0"/>
<text x="383.20" y="571.80" font-size="8.2" text-anchor="middle" font-weight="normal">60</text>
<line x1="403.56" y1="558.50" x2="403.56" y2="561.50" stroke="#111" stroke-width="1.0"/>
<text x="403.56" y="571.80" font-size="8.2" text-anchor="middle" font-weight="normal">80</text>
<line x1="423.93" y1="558.50" x2="423.93" y2="561.50" stroke="#111" stroke-width="1.0"/>
<text x="423.93" y="571.80" font-size="8.2" text-anchor="middle" font-weight="normal">100</text>
<line x1="444.30" y1="558.50" x2="444.30" y2="561.50" stroke="#111" stroke-width="1.0"/>
<text x="444.30" y="571.80" font-size="8.2" text-anchor="middle" font-weight="normal">120</text>
<line x1="464.66" y1="558.50" x2="464.66" y2="561.50" stroke="#111" stroke-width="1.0"/>
<text x="464.66" y="571.80" font-size="8.2" text-anchor="middle" font-weight="normal">140</text>
<line x1="485.03" y1="558.50" x2="485.03" y2="561.50" stroke="#111" stroke-width="1.0"/>
<text x="485.03" y="571.80" font-size="8.2" text-anchor="middle" font-weight="normal">160</text>
<line x1="505.39" y1="558.50" x2="505.39" y2="561.50" stroke="#111" stroke-width="1.0"/>
<text x="505.39" y="571.80" font-size="8.2" text-anchor="middle" font-weight="normal">180</text>
<text x="415.0" y="585.3" font-size="8.7" text-anchor="middle">LC-MS/MS (AU)</text>
<text x="0" y="0" font-size="8.7" text-anchor="middle" transform="translate(290.6,499.8) rotate(-90)">ELISA (ng/ml)</text>
<text x="334.4" y="446.3" font-size="7.8">r = 0.7932</text>
<text x="334.4" y="455.6" font-size="7.8">(<tspan font-style="italic">P</tspan> &lt; .0001)</text>
<polyline points="322.0,557.48 323.0,557.43 324.0,557.38 325.0,557.33 326.0,557.27 327.0,557.21 328.0,557.14 329.0,557.07 330.0,557.00 331.0,556.92 332.0,556.83 333.0,556.75 334.0,556.65 335.0,556.55 336.0,556.44 337.0,556.32 338.0,556.20 339.0,556.07 340.0,555.93 341.0,555.79 342.0,555.63 343.0,555.46 344.0,555.29 345.0,555.10 346.0,554.90 347.0,554.68 348.0,554.46 349.0,554.22 350.0,553.97 351.0,553.70 352.0,553.41 353.0,553.11 354.0,552.79 355.0,552.45 356.0,552.09 357.0,551.70 358.0,551.30 359.0,550.87 360.0,550.42 361.0,549.95 362.0,549.45 363.0,548.92 364.0,548.36 365.0,547.77 366.0,547.15 367.0,546.50 368.0,545.81 369.0,545.10 370.0,544.34 371.0,543.55 372.0,542.73 373.0,541.86 374.0,540.96 375.0,540.02 376.0,539.03 377.0,538.01 378.0,536.95 379.0,535.85 380.0,534.70 381.0,533.52 382.0,532.30 383.0,531.04 384.0,529.74 385.0,528.40 386.0,527.03 387.0,525.62 388.0,524.18 389.0,522.71 390.0,521.21 391.0,519.68 392.0,518.14 393.0,516.57 394.0,514.98 395.0,513.38 396.0,511.76 397.0,510.14 398.0,508.51 399.0,506.89 400.0,505.26 401.0,503.64 402.0,502.02 403.0,500.42 404.0,498.83 405.0,497.26 406.0,495.72 407.0,494.19 408.0,492.69 409.0,491.22 410.0,489.78 411.0,488.37 412.0,487.00 413.0,485.66 414.0,484.36 415.0,483.10 416.0,481.88 417.0,480.70 418.0,479.55 419.0,478.45 420.0,477.39 421.0,476.37 422.0,475.38 423.0,474.44 424.0,473.54 425.0,472.67 426.0,471.85 427.0,471.06 428.0,470.30 429.0,469.59 430.0,468.90 431.0,468.25 432.0,467.63 433.0,467.04 434.0,466.48 435.0,465.95 436.0,465.45 437.0,464.98 438.0,464.53 439.0,464.10 440.0,463.70 441.0,463.31 442.0,462.95 443.0,462.61 444.0,462.29 445.0,461.99 446.0,461.70 447.0,461.43 448.0,461.18 449.0,460.94 450.0,460.72 451.0,460.50 452.0,460.30 453.0,460.11 454.0,459.94 455.0,459.77 456.0,459.61 457.0,459.47 458.0,459.33 459.0,459.20 460.0,459.08 461.0,458.96 462.0,458.85 463.0,458.75 464.0,458.65 465.0,458.57 466.0,458.48 467.0,458.40 468.0,458.33 469.0,458.26 470.0,458.19 471.0,458.13 472.0,458.07 473.0,458.02 474.0,457.97 475.0,457.92 476.0,457.88 477.0,457.83 478.0,457.79 479.0,457.76 480.0,457.72 481.0,457.69 482.0,457.66 483.0,457.63 484.0,457.60" fill="none" stroke="#111" stroke-width="1.5"/>
<circle cx="321.50" cy="553.10" r="2.95"/>
<circle cx="334.50" cy="550.80" r="2.95"/>
<circle cx="346.40" cy="549.60" r="2.95"/>
<circle cx="349.10" cy="552.30" r="2.95"/>
<circle cx="322.00" cy="559.00" r="2.95"/>
<circle cx="325.00" cy="558.90" r="2.95"/>
<circle cx="328.00" cy="558.10" r="2.95"/>
<circle cx="331.00" cy="557.30" r="2.95"/>
<circle cx="334.00" cy="557.30" r="2.95"/>
<circle cx="337.00" cy="556.60" r="2.95"/>
<circle cx="340.00" cy="555.90" r="2.95"/>
<circle cx="343.00" cy="554.90" r="2.95"/>
<circle cx="325.50" cy="557.10" r="2.95"/>
<circle cx="333.50" cy="554.60" r="2.95"/>
<circle cx="338.00" cy="555.50" r="2.95"/>
<circle cx="344.50" cy="553.10" r="2.95"/>
<circle cx="324.00" cy="559.30" r="2.95"/>
<circle cx="370.40" cy="541.80" r="2.95"/>
<circle cx="374.20" cy="529.50" r="2.95"/>
<circle cx="391.90" cy="531.40" r="2.95"/>
<circle cx="399.40" cy="509.70" r="2.95"/>
<circle cx="430.30" cy="455.20" r="2.95"/>
<circle cx="483.20" cy="466.30" r="2.95"/>
<rect x="0.5" y="0.5" width="519" height="594" fill="none" stroke="#111" stroke-width="1"/>
</svg>
</body></html>
